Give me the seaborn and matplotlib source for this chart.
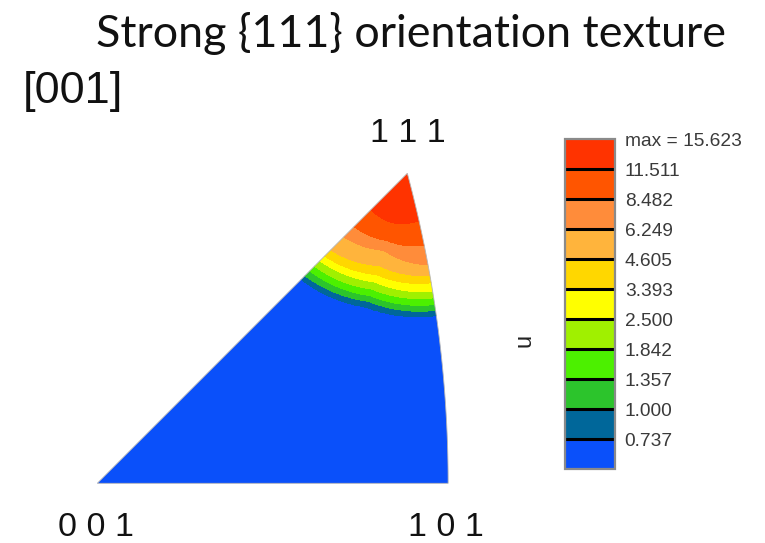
import numpy as np
import matplotlib
matplotlib.use("Agg")
import matplotlib.pyplot as plt
from matplotlib.patches import Polygon
import seaborn as sns

# Contour levels of the inverse pole figure (multiples of random density)
levels = [0.0, 0.737, 1.000, 1.357, 1.842, 2.500, 3.393, 4.605, 6.249, 8.482, 11.511, 15.623]
band_colors = ["#0A50FA", "#00679A", "#2CC42C", "#4CF000", "#A0F000", "#FFFF00",
               "#FFD700", "#FFB43C", "#FF8C3A", "#FF5500", "#FF3300"]
tick_labels = ["0.737", "1.000", "1.357", "1.842", "2.500", "3.393",
               "4.605", "6.249", "8.482", "11.511", "max = 15.623"]

# Distance of each contour (11.511 down to 0.737) from the 111 pole,
# in stereographic units, along three directions around the pole
ray_azimuth = [225.0, 253.0, 281.0]
radius_left = [0.061, 0.089, 0.106, 0.128, 0.138, 0.146, 0.155, 0.163, 0.171, 0.177]
radius_mid = [0.061, 0.083, 0.095, 0.114, 0.125, 0.134, 0.143, 0.151, 0.158, 0.165]
radius_right = [0.058, 0.087, 0.110, 0.123, 0.132, 0.142, 0.150, 0.158, 0.165, 0.171]

corner_labels = ["0 0 1", "1 0 1", "1 1 1"]

sns.set_theme(style="white")
plt.rcParams["font.family"] = ["Liberation Sans", "DejaVu Sans"]
palette = sns.color_palette(band_colors)


def stereo(v):
    v = np.asarray(v, dtype=float)
    v = v / np.linalg.norm(v, axis=-1, keepdims=True)
    return v[..., 0] / (1 + v[..., 2]), v[..., 1] / (1 + v[..., 2])


# Standard triangle: 001 - 101 straight edge, 101 - 111 great-circle arc, 111 - 001 edge
a = np.array([1.0, 0.0, 1.0]) / np.sqrt(2)
b = np.array([1.0, 1.0, 1.0]) / np.sqrt(3)
om = np.arccos(np.dot(a, b))
t = np.linspace(0, 1, 80)[:, None]
arc = (np.sin((1 - t) * om) * a + np.sin(t * om) * b) / np.sin(om)
ax_, ay_ = stereo(arc)
tri_x = np.concatenate([[0.0], ax_])
tri_y = np.concatenate([[0.0], ay_])
px, py = stereo([1, 1, 1])

# Density field built from the contour radii around the 111 pole
gx = np.linspace(-0.005, 0.425, 520)
gy = np.linspace(-0.005, 0.375, 460)
X, Y = np.meshgrid(gx, gy)
dx, dy = X - px, Y - py
dist = np.hypot(dx, dy).ravel()
az = (np.degrees(np.arctan2(dy, dx)).ravel()) % 360
prof = np.array([radius_left, radius_mid, radius_right])
B = np.stack([np.interp(az, ray_azimuth, prof[:, k]) for k in range(prof.shape[1])], axis=1)
B = np.hstack([np.zeros((B.shape[0], 1)), B, np.full((B.shape[0], 1), 0.8)])
logv = np.log(np.array([15.623] + levels[1:][::-1][1:] + [0.3]))
k = np.clip((dist[:, None] > B[:, 1:-1]).sum(axis=1), 0, B.shape[1] - 2)
idx = np.arange(B.shape[0])
b0, b1 = B[idx, k], B[idx, k + 1]
frac = np.clip((dist - b0) / (b1 - b0), 0, 1)
V = np.exp(logv[k] + frac * (logv[k + 1] - logv[k])).reshape(X.shape)

fig = plt.figure(figsize=(7.65, 5.43), dpi=100)
fig.patch.set_facecolor("white")

ax = fig.add_axes([0.10505, 0.07875, 0.5093, 0.6239])
ax.set_xlim(-0.02, 0.44)
ax.set_ylim(-0.02, 0.38)
ax.axis("off")

cs = ax.contourf(X, Y, V, levels=levels, colors=palette)
tri = Polygon(np.column_stack([tri_x, tri_y]), closed=True, facecolor="none",
              edgecolor="#b5b5b5", lw=0.6, zorder=3)
ax.add_patch(tri)
cs.set_clip_path(tri)

# Corner labels
fig.text(96 / 765, 1 - 536.5 / 543, corner_labels[0], ha="center", va="baseline",
         fontsize=24.5, color="#111111")
fig.text(446 / 765, 1 - 536.5 / 543, corner_labels[1], ha="center", va="baseline",
         fontsize=24.5, color="#111111")
fig.text(408 / 765, 1 - 142.5 / 543, corner_labels[2], ha="center", va="baseline",
         fontsize=24.5, color="#111111")

# Colour key
cax = fig.add_axes([565 / 765, (543 - 469) / 543, 50 / 765, 330 / 543])
cb = fig.colorbar(cs, cax=cax, spacing="uniform", drawedges=True)
cb.set_ticks(levels[1:], labels=tick_labels)
cb.ax.tick_params(length=0, pad=7, labelsize=13.8, labelcolor="#3a3a3a")
cb.dividers.set_color("black")
cb.dividers.set_linewidth(2.2)
cb.outline.set_edgecolor("#8a8a8a")
cb.outline.set_linewidth(1.6)

fig.text(524.5 / 765, 1 - 340 / 543, "u", rotation=90, ha="center", va="center",
         fontsize=17, color="#222222")

fig.text(23 / 765, 1 - 103 / 543, "[001]", ha="left", va="baseline",
         fontsize=32.5, color="#111111")
fig.text(411 / 765, 1 - 47 / 543, "Strong {111} orientation texture", ha="center",
         va="baseline", fontsize=32.3, color="#111111", family=["Lato", "DejaVu Sans"])

fig.savefig("out.png", dpi=100, facecolor="white")
